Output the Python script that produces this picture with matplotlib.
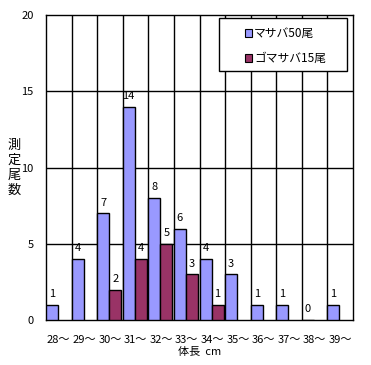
import matplotlib
matplotlib.use("Agg")
import matplotlib.pyplot as plt
from matplotlib.patches import Rectangle
import numpy as np

plt.rcParams['font.family'] = ['Noto Sans CJK JP', 'DejaVu Sans']

categories = ["28〜", "29〜", "30〜", "31〜", "32〜", "33〜", "34〜", "35〜", "36〜", "37〜", "38〜", "39〜"]
masaba = [1, 4, 7, 14, 8, 6, 4, 3, 1, 1, 0, 1]
gomasaba = [0, 0, 2, 4, 5, 3, 1, 0, 0, 0, 0, 0]
series_names = ["マサバ50尾", "ゴマサバ15尾"]
colors = ["#9999FF", "#993366"]
y_ticks = [0, 5, 10, 15, 20]

W, H = 371, 365
fig = plt.figure(figsize=(W / 100, H / 100), dpi=100)
ax = fig.add_axes([46 / W, 45 / H, 307 / W, 305 / H])

n = len(categories)
x = np.arange(n)
bw = 0.47
ax.bar(x, masaba, width=bw, align='edge', color=colors[0], edgecolor='black', linewidth=1, zorder=3)
gi = [i for i in range(n) if gomasaba[i] > 0]
ax.bar(x[gi] + bw, [gomasaba[i] for i in gi], width=bw, align='edge', color=colors[1], edgecolor='black', linewidth=1, zorder=3)

fs = 8
for i, v in enumerate(masaba):
    ax.annotate(str(v), (i + bw / 2, v), xytext=(0, 4), textcoords='offset points', ha='center', va='bottom', fontsize=fs)
for i in gi:
    v = gomasaba[i]
    ax.annotate(str(v), (i + bw * 1.5, v), xytext=(0, 4), textcoords='offset points', ha='center', va='bottom', fontsize=fs)

ax.set_xlim(0, n)
ax.set_ylim(0, 20)
ax.set_yticks(y_ticks)
ax.set_yticklabels([str(t) for t in y_ticks], fontsize=fs)
ax.set_xticks(x + 0.5)
ax.set_xticklabels(categories, fontsize=fs)
ax.tick_params(axis='both', length=0)
ax.tick_params(axis='x', pad=11)
ax.tick_params(axis='y', pad=9)
for t in y_ticks[1:-1]:
    ax.axhline(t, color='black', linewidth=1, zorder=1)
for i in range(1, n):
    ax.axvline(i, color='black', linewidth=1, zorder=1)
for s in ax.spines.values():
    s.set_color('black')
    s.set_linewidth(1)

ax.set_xlabel("体長  cm", fontsize=fs, labelpad=1)

ylab = "測定尾数"
for k, ch in enumerate(ylab):
    fig.text(14 / W, 1 - (145 + k * 15) / H, ch, fontsize=9.5, ha='center', va='center')

# legend drawn manually
lx0, ly0, lx1, ly1 = 219, 18, 347, 71
fig.patches.append(Rectangle((lx0 / W, 1 - ly1 / H), (lx1 - lx0) / W, (ly1 - ly0) / H,
                             transform=fig.transFigure, facecolor='white', edgecolor='black',
                             linewidth=1, zorder=5))
for k, (name, c) in enumerate(zip(series_names, colors)):
    cy = 33 + k * 25
    fig.patches.append(Rectangle((245 / W, 1 - (cy + 3.5) / H), 7 / W, 7 / H,
                                 transform=fig.transFigure, facecolor=c, edgecolor='black',
                                 linewidth=0.8, zorder=6))
    fig.text(254 / W, 1 - cy / H, name, fontsize=8.5, ha='left', va='center', zorder=6)

fig.savefig("out.png", dpi=100)
